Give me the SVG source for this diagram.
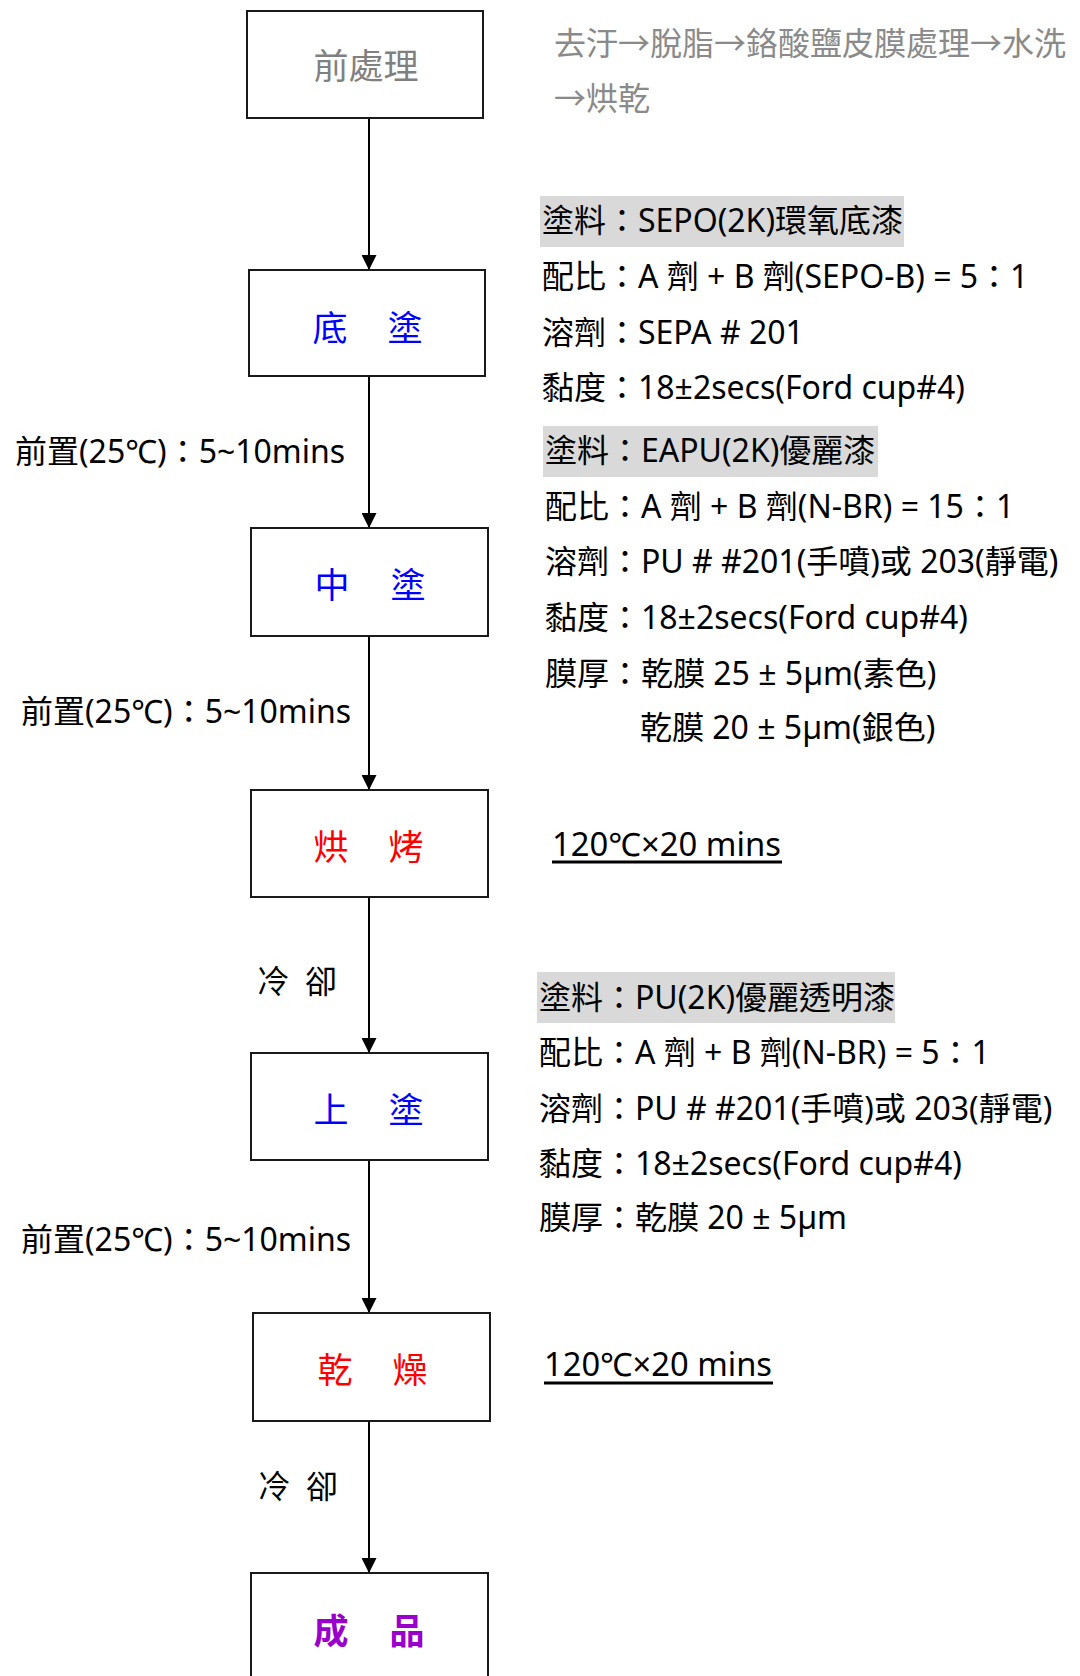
<svg xmlns="http://www.w3.org/2000/svg" width="1080" height="1676" viewBox="0 0 1080 1676">
<defs>
<style>
.box{fill:#fff;stroke:#1a1a1a;stroke-width:2}
.t{font-family:"Noto Sans","Noto Sans CJK TC",sans-serif;font-size:32px;fill:#000}
.g{font-family:"Noto Sans","Noto Sans CJK TC",sans-serif;font-size:32px;fill:#8a8a8a}
.bx{font-family:"Noto Sans CJK TC",sans-serif;font-size:35px;text-anchor:middle}
.hl{fill:#d9d9d9}
.conn{stroke:#000;stroke-width:2;fill:none}
.ul{stroke:#000;stroke-width:3}
</style>
<marker id="arr" viewBox="0 0 15 15" refX="15" refY="7.5" markerWidth="15" markerHeight="15" orient="auto" markerUnits="userSpaceOnUse">
<path d="M0,0 L15,7.5 L0,15 z" fill="#000"/>
</marker>
</defs>
<rect width="1080" height="1676" fill="#fff"/>

<g id="connectors">
<line class="conn" x1="369" y1="118" x2="369" y2="270" marker-end="url(#arr)"/>
<line class="conn" x1="369" y1="376" x2="369" y2="528" marker-end="url(#arr)"/>
<line class="conn" x1="369" y1="636" x2="369" y2="790" marker-end="url(#arr)"/>
<line class="conn" x1="369" y1="897" x2="369" y2="1053" marker-end="url(#arr)"/>
<line class="conn" x1="369" y1="1160" x2="369" y2="1313" marker-end="url(#arr)"/>
<line class="conn" x1="369" y1="1421" x2="369" y2="1573" marker-end="url(#arr)"/>
</g>

<g id="n-pre">
<rect class="box" x="247" y="11" width="236" height="107"/>
<text class="bx" x="366" y="79" fill="#808080">前處理</text>
</g>
<g id="n-base">
<rect class="box" x="249" y="270" width="236" height="106"/>
<text class="bx" x="330" y="341" fill="#0000ff">底</text>
<text class="bx" x="405" y="341" fill="#0000ff">塗</text>
</g>
<g id="n-mid">
<rect class="box" x="251" y="528" width="237" height="108"/>
<text class="bx" x="332" y="598" fill="#0000ff">中</text>
<text class="bx" x="408" y="598" fill="#0000ff">塗</text>
</g>
<g id="n-bake">
<rect class="box" x="251" y="790" width="237" height="107"/>
<text class="bx" x="331" y="860" fill="#ff0000">烘</text>
<text class="bx" x="406" y="860" fill="#ff0000">烤</text>
</g>
<g id="n-top">
<rect class="box" x="251" y="1053" width="237" height="107"/>
<text class="bx" x="331" y="1123" fill="#0000ff">上</text>
<text class="bx" x="406" y="1123" fill="#0000ff">塗</text>
</g>
<g id="n-dry">
<rect class="box" x="253" y="1313" width="237" height="108"/>
<text class="bx" x="335" y="1383" fill="#ff0000">乾</text>
<text class="bx" x="410" y="1383" fill="#ff0000">燥</text>
</g>
<g id="n-done">
<rect class="box" x="251" y="1573" width="237" height="120"/>
<text class="bx" x="331" y="1644" fill="#9900cc" font-weight="bold">成</text>
<text class="bx" x="407" y="1644" fill="#9900cc" font-weight="bold">品</text>
</g>

<g id="labels-left">
<text class="t" x="15" y="463">前置(25℃)：5~10mins</text>
<text class="t" x="21" y="723">前置(25℃)：5~10mins</text>
<text class="t" x="21" y="1251">前置(25℃)：5~10mins</text>
<text class="t" x="257" y="993" font-size="30">冷</text>
<text class="t" x="305" y="993" font-size="30">卻</text>
<text class="t" x="258" y="1498" font-size="30">冷</text>
<text class="t" x="306" y="1498" font-size="30">卻</text>
</g>

<g id="notes">
<text class="g" x="554" y="55">去汙→脫脂→鉻酸鹽皮膜處理→水洗</text>
<text class="g" x="554" y="110">→烘乾</text>

<rect class="hl" x="540" y="196" width="364" height="51"/>
<text class="t" x="542" y="232">塗料：SEPO(2K)環氧底漆</text>
<text class="t" x="542" y="288">配比：A 劑 + B 劑(SEPO-B) = 5：1</text>
<text class="t" x="542" y="344">溶劑：SEPA # 201</text>
<text class="t" x="542" y="399">黏度：18±2secs(Ford cup#4)</text>

<rect class="hl" x="543" y="426" width="335" height="51"/>
<text class="t" x="545" y="462">塗料：EAPU(2K)優麗漆</text>
<text class="t" x="545" y="518">配比：A 劑 + B 劑(N-BR) = 15：1</text>
<text class="t" x="545" y="573">溶劑：PU # #201(手噴)或 203(靜電)</text>
<text class="t" x="545" y="629">黏度：18±2secs(Ford cup#4)</text>
<text class="t" x="545" y="685">膜厚：乾膜 25 ± 5µm(素色)</text>
<text class="t" x="640" y="739">乾膜 20 ± 5µm(銀色)</text>

<text class="t" x="552" y="856" textLength="229" lengthAdjust="spacingAndGlyphs">120℃×20 mins</text>
<line class="ul" x1="552" y1="862" x2="782" y2="862"/>

<rect class="hl" x="537" y="972" width="358" height="51"/>
<text class="t" x="539" y="1009">塗料：PU(2K)優麗透明漆</text>
<text class="t" x="539" y="1064">配比：A 劑 + B 劑(N-BR) = 5：1</text>
<text class="t" x="539" y="1120">溶劑：PU # #201(手噴)或 203(靜電)</text>
<text class="t" x="539" y="1175">黏度：18±2secs(Ford cup#4)</text>
<text class="t" x="539" y="1229">膜厚：乾膜 20 ± 5µm</text>

<text class="t" x="544" y="1376" textLength="228" lengthAdjust="spacingAndGlyphs">120℃×20 mins</text>
<line class="ul" x1="544" y1="1383" x2="773" y2="1383"/>
</g>
</svg>
